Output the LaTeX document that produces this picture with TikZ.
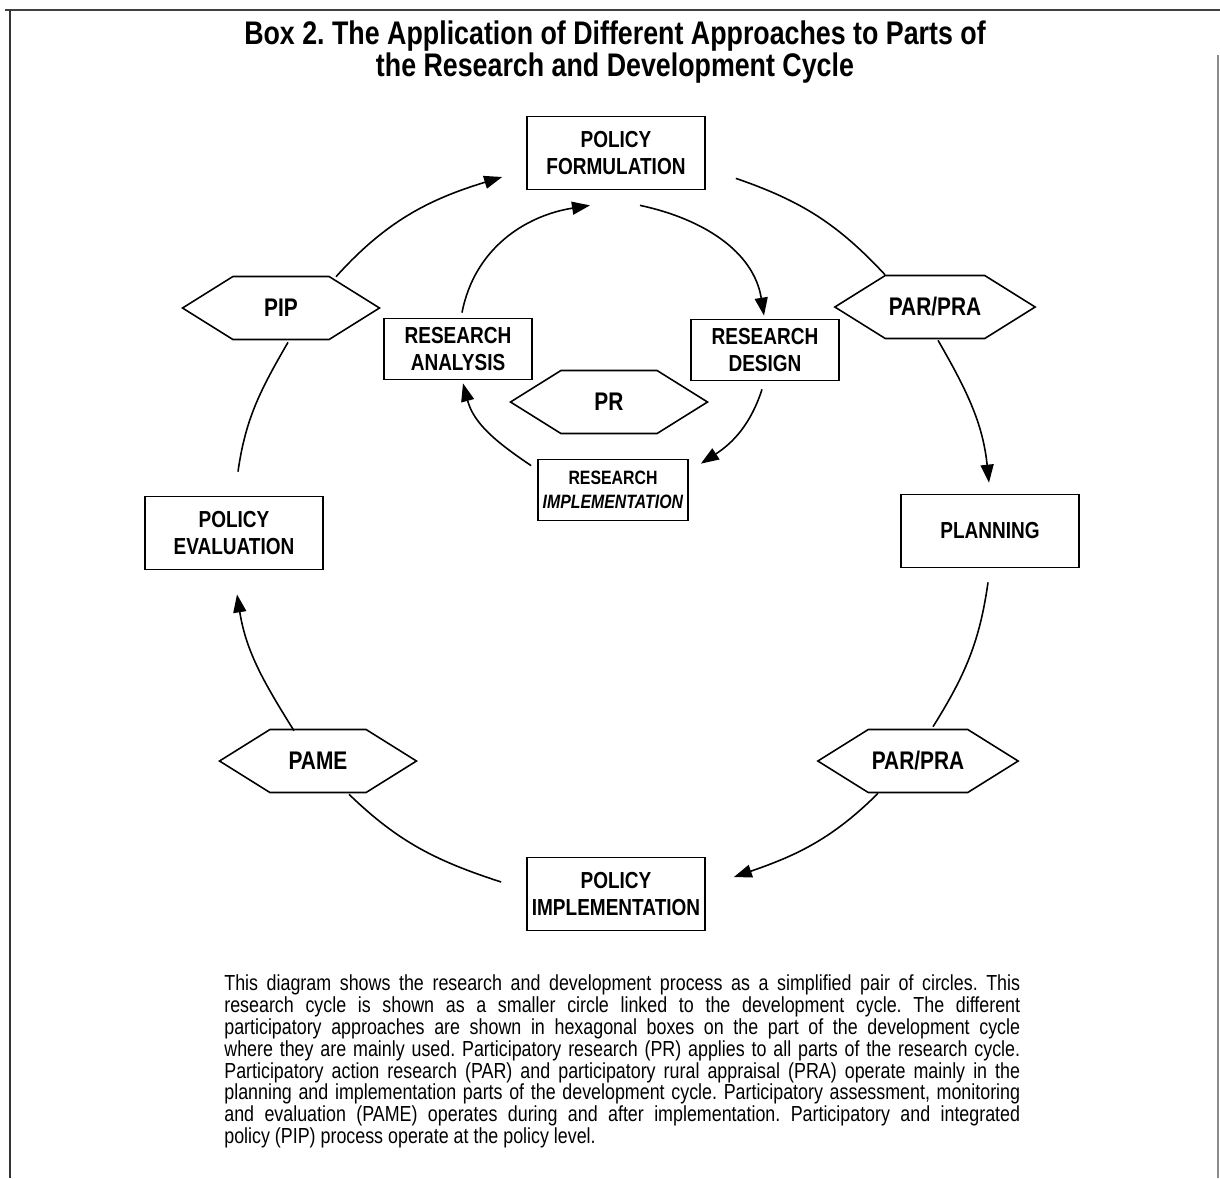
\documentclass[tikz,border=0pt]{standalone}
\usepackage{fontspec}
\setmainfont[FakeStretch=0.82]{Liberation Sans}
\usetikzlibrary{arrows.meta, shapes.symbols, calc}

\begin{document}
\begin{tikzpicture}[
  x=0.02cm, y=-0.02cm,
  >={Triangle[length=0.36cm, width=0.26cm]},
  every node/.style = {font=\bfseries\fontsize{13.2}{15.5}\selectfont},
  %-- block styles -------------------------------------------------------
  stagebox/.style = {draw, line width=1pt, rectangle, align=center,
                     minimum width=3.56cm, minimum height=1.46cm, inner sep=2pt},
  resbox/.style   = {draw, line width=1pt, rectangle, align=center,
                     minimum width=2.96cm, minimum height=1.22cm, inner sep=2pt},
  hexbox/.style   = {draw, line width=0.9pt, signal, signal to=west and east,
                     signal pointer angle=64, minimum width=3.94cm,
                     minimum height=1.26cm, inner sep=2pt,
                     font=\bfseries\fontsize{14.5}{16}\selectfont},
  cycle/.style    = {line width=0.9pt},
  cyclearrow/.style = {->, line width=0.9pt},
]
\useasboundingbox (0,0) rectangle (1220,1178);

% ── frame ─────────────────────────────────────────────────────────────────────
\draw[line width=1.6pt, black!75] (5,10) -- (1220,10);
\draw[line width=1.6pt, black!80] (10,10) -- (10,1178);
\draw[line width=0.6pt, black!45] (1218,55) -- (1218,1178);

% ── title ─────────────────────────────────────────────────────────────────────
\node[font=\frenchspacing\bfseries\fontsize{18.6}{18.4}\selectfont, align=center] (title) at (615,52)
  {Box 2. The Application of Different Approaches to Parts of\\
   the Research and Development Cycle};

% ── development cycle (outer) ─────────────────────────────────────────────────
\node[stagebox] (PF)   at (616,153) {POLICY\\FORMULATION};
\node[hexbox]   (PARa) at (935,307) {PAR/PRA};
\node[stagebox] (PL)   at (990,531) {PLANNING};
\node[hexbox]   (PARb) at (918,761) {PAR/PRA};
\node[stagebox] (PI)   at (616,894) {POLICY\\IMPLEMENTATION};
\node[hexbox]   (PAME) at (318,761) {PAME};
\node[stagebox] (PE)   at (234,533) {POLICY\\EVALUATION};
\node[hexbox]   (PIP)  at (281,308) {PIP};

% ── research cycle (inner) ────────────────────────────────────────────────────
\node[resbox] (RA) at (458,349) {RESEARCH\\ANALYSIS};
\node[resbox] (RD) at (765,350) {RESEARCH\\DESIGN};
\node[resbox, minimum width=3.0cm,
      font=\bfseries\fontsize{11}{13.5}\selectfont] (RI) at (613,490)
      {RESEARCH\\\textit{IMPLEMENTATION}};
\node[hexbox] (PR) at (609,402) {PR};

% ── outer arcs ────────────────────────────────────────────────────────────────
\draw[cycle]      ($(PF.south east)+(30,-12)$) to[out=-19, in=133] ($(PARa.north)+(-50,0)$);
\draw[cyclearrow] ($(PARa.south)+(3,1)$)       to[out=-60, in=96]  ($(PL.north)+(-1,-11)$);
\draw[cycle]      ($(PL.south)+(-2,14)$)       to[out=-98, in=58]  ($(PARb.north)+(15,-2)$);
\draw[cyclearrow] ($(PARb.south)+(-40,0)$)     to[out=-135, in=19] ($(PI.east)+(28,-17)$);
\draw[cycle]      ($(PI.west)+(-25,-12)$)      to[out=162, in=-44] ($(PAME.south)+(31,1)$);
\draw[cyclearrow] ($(PAME.north)+(-24,2)$)     to[out=122, in=-81] ($(PE.south)+(3,24)$);
\draw[cycle]      ($(PE.north)+(4,-24)$)       to[out=82, in=-120] ($(PIP.south)+(7,2)$);
\draw[cyclearrow] ($(PIP.north)+(55,1)$)       to[out=48, in=-163] ($(PF.west)+(-24,24)$);

% ── inner arcs ────────────────────────────────────────────────────────────────
\draw[cyclearrow] ($(PF.south)+(24,15)$)       to[out=-12, in=99]  ($(RD.north)+(-1,-3)$);
\draw[cyclearrow] ($(RD.south)+(-3,8)$)        to[out=-108, in=33] ($(RI.north east)+(12,5)$);
\draw[cyclearrow] ($(RI.north west)+(-6,7)$)   to[out=146, in=-75] ($(RA.south)+(5,3)$);
\draw[cyclearrow] ($(RA.north)+(4,-5)$)        to[out=79, in=-171] ($(PF.south)+(-26,15)$);

% ── explanatory note ──────────────────────────────────────────────────────────
\node[font=\frenchspacing\fontsize{12.4}{12.5}\selectfont, text width=15.92cm, align=justify,
      anchor=north west, inner sep=0pt] (note) at (224,974) {%
  This diagram shows the research and development process as a simplified pair of circles. This\linebreak
  research cycle is shown as a smaller circle linked to the development cycle. The different\linebreak
  participatory approaches are shown in hexagonal boxes on the part of the development cycle\linebreak
  where they are mainly used. Participatory research (PR) applies to all parts of the research cycle.\linebreak
  Participatory action research (PAR) and participatory rural appraisal (PRA) operate mainly in the\linebreak
  planning and implementation parts of the development cycle. Participatory assessment, monitoring\linebreak
  and evaluation (PAME) operates during and after implementation. Participatory and integrated\linebreak
  policy (PIP) process operate at the policy level.};

\end{tikzpicture}
\end{document}
